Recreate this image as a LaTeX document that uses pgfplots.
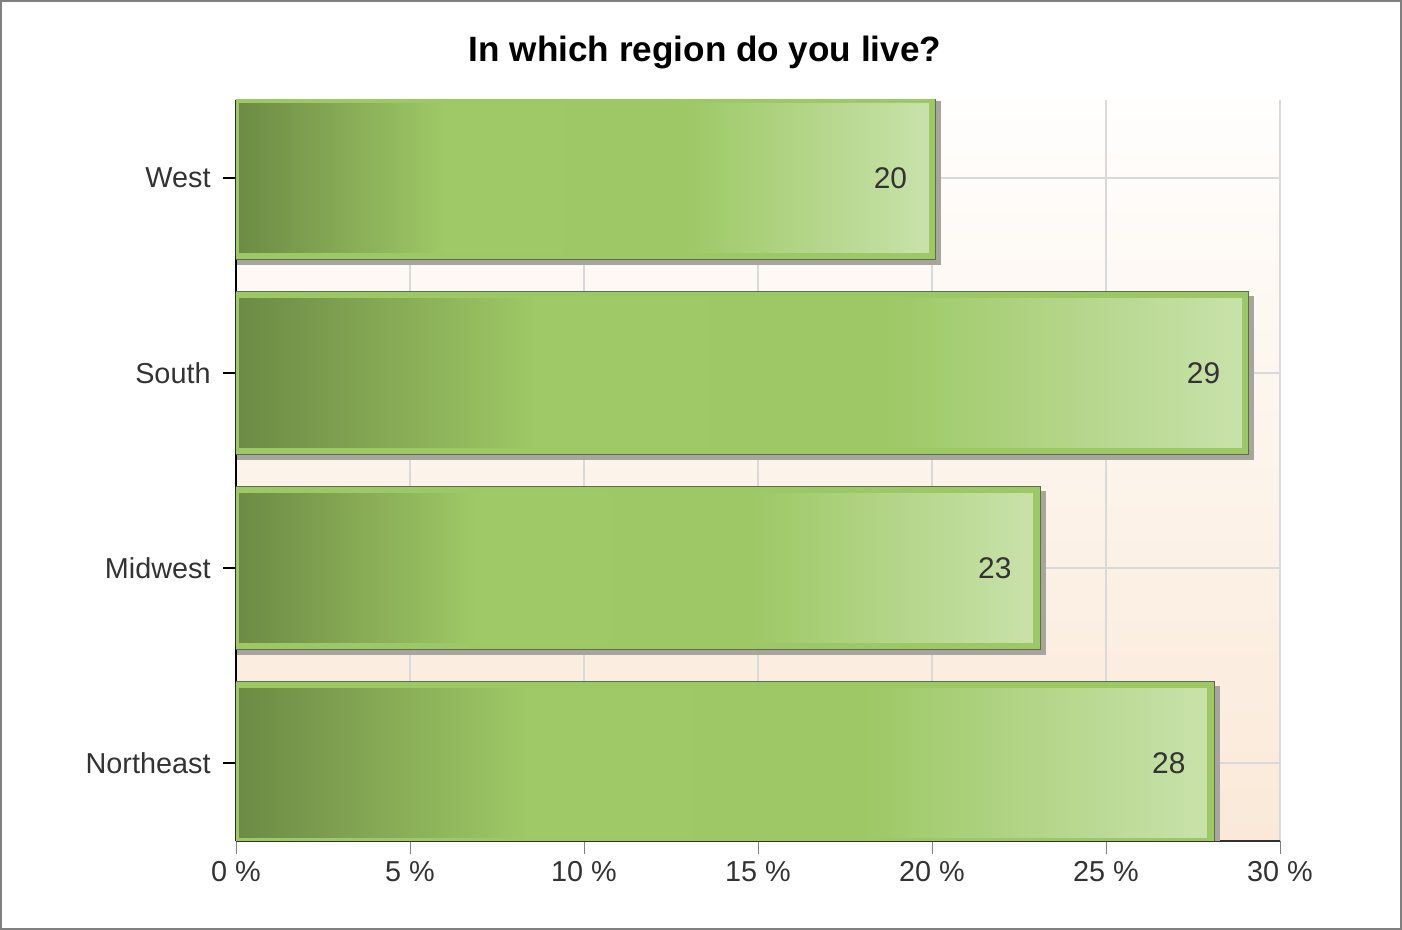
\documentclass[border=0pt]{standalone}
\usepackage{pgfplots}
\pgfplotsset{compat=1.18}
\usepackage{fontspec}
\setmainfont{Liberation Sans}

\definecolor{gA}{HTML}{6C8A44}
\definecolor{gB}{HTML}{9FC966}
\definecolor{gC}{HTML}{9DC865}
\definecolor{gD}{HTML}{C9E2AB}
\definecolor{barrim}{HTML}{9CC866}
\definecolor{baredge}{HTML}{5E6B50}
\definecolor{bgtop}{HTML}{FFFEFD}
\definecolor{bgbot}{HTML}{FAE9D8}
\definecolor{gridc}{HTML}{D9D9D9}
\definecolor{labc}{HTML}{333333}
\definecolor{shadowc}{HTML}{A8A49E}

\pgfdeclarehorizontalshading{barshade}{100bp}{%
  color(0bp)=(gA); color(25bp)=(gA); color(40bp)=(gB);
  color(57bp)=(gC); color(75bp)=(gD); color(100bp)=(gD)}

% one small table per region, so that each bar gets its own shading
\pgfplotstableread{
pos value
0 28
}\northeast
\pgfplotstableread{
pos value
1 23
}\midwest
\pgfplotstableread{
pos value
2 29
}\south
\pgfplotstableread{
pos value
3 20
}\west

\pgfplotsset{
  regionbar/.style={
    preaction={shade=false, fill=shadowc, draw=shadowc, line width=0.085cm,
      transform canvas={xshift=0.05cm, yshift=-0.05cm}},
    preaction={shade=false, draw=baredge, line width=0.085cm},
    shade, shading=barshade,
    draw=barrim, line width=0.065cm,
  },
}

\begin{document}
\begin{tikzpicture}
  \draw[gray, line width=0.02cm] (0.01,0.01) rectangle (14.01,9.29);
  \begin{axis}[
      at={(2.36cm,0.89cm)}, anchor=south west,
      scale only axis,
      width=10.44cm, height=7.41cm,
      xbar, bar width=0.8, bar shift=0pt,
      xmin=0, xmax=30, ymin=-0.4, ymax=3.4,
      xtick={0,5,...,30},
      xticklabel={\pgfmathprintnumber{\tick}~\%},
      ytick={0,1,2,3},
      yticklabels={Northeast,Midwest,South,West},
      /pgf/number format/assume math mode=true,
      axis x line*=bottom, axis y line*=left,
      x axis line style={draw=labc, -},
      y axis line style={draw=black, -},
      tick align=outside,
      major tick length=0.13cm,
      x tick style={draw=gray},
      y tick style={draw=black, line width=0.6pt},
      xmajorgrids, ymajorgrids,
      grid style={draw=gridc, line width=0.6pt},
      tick label style={font=\fontsize{8.2}{10}\selectfont, text=labc},
      xticklabel style={yshift=0.05cm},
      title={\bfseries In which region do you live?},
      title style={font=\fontsize{10}{12}\selectfont, yshift=-0.02cm, xshift=-0.53cm},
      axis background/.style={shade, top color=bgtop, bottom color=bgbot},
      nodes near coords,
      every node near coord/.append style={anchor=east, xshift=-0.1cm,
        text=labc, font=\fontsize{8.5}{10}\selectfont},
    ]
    \addplot[regionbar] table[x=value, y=pos] {\northeast};
    \addplot[regionbar] table[x=value, y=pos] {\midwest};
    \addplot[regionbar] table[x=value, y=pos] {\south};
    \addplot[regionbar] table[x=value, y=pos] {\west};
  \end{axis}
\end{tikzpicture}
\end{document}
